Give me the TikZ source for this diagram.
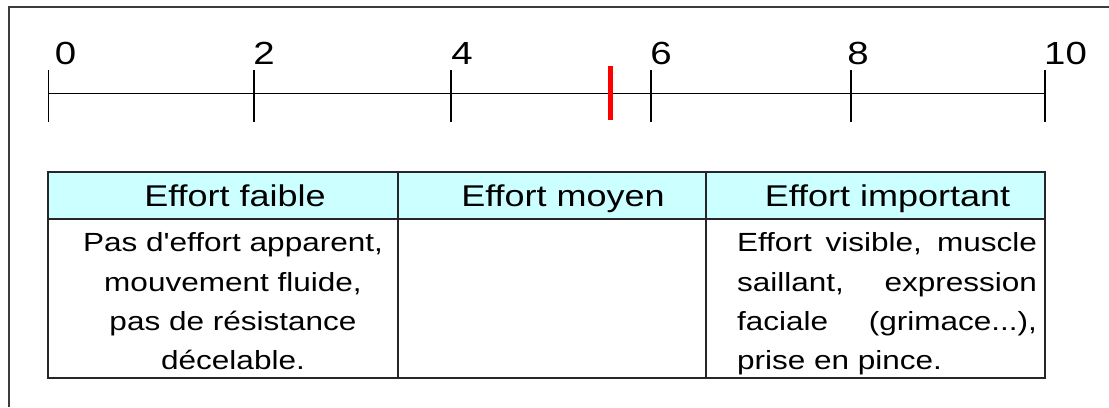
\documentclass[tikz,border=0pt]{standalone}
\usepackage{fontspec}
\setmainfont{Liberation Sans}[FakeStretch=1.2,Ligatures=TeXOff]
\usetikzlibrary{positioning}
\definecolor{headcyan}{RGB}{204,255,255}
\definecolor{framegray}{RGB}{60,60,60}
\tikzstyle{cell}=[draw=black!85,line width=1.1pt]
\tikzstyle{headtext}=[anchor=base,inner sep=0pt,font=\fontsize{22.5pt}{27pt}\selectfont]
\tikzstyle{bodytext}=[anchor=base,inner sep=0pt,font=\fontsize{19.7pt}{29.55pt}\selectfont]
\tikzstyle{ticklabel}=[anchor=base,inner sep=0pt,font=\fontsize{24pt}{28pt}\selectfont]

\begin{document}
\begin{tikzpicture}[x=0.75pt,y=-0.75pt,line width=1pt]
  \useasboundingbox (0,0) rectangle (1109,407);
  \draw[framegray,line width=1.4pt] (9,407) -- (9,7.3) -- (1109,7.3);
  % scale 0..10
  \foreach \n/\x/\lx in {0/48.7/65.5,2/254/264,4/451/462,6/651/661,8/851/858,10/1045/1065.5}{
    \coordinate (t\n) at (\x,93.3);
    \draw (t\n) ++(0,-23.3) -- ++(0,51.7);
    \node[ticklabel] (l\n) at (\lx,64) {\n};
  }
  \draw (t0) -- (t10);
  \coordinate (score) at (610.3,93.3);
  \draw[red,line width=3.75pt] (score) ++(0,-27.3) -- ++(0,54);
  % table
  \draw[cell,fill=headcyan] (48,172) rectangle (1045,219);
  \draw[cell] (48,172) rectangle (1045,378);
  \draw[cell] (398,172) -- (398,378);
  \draw[cell] (706,172) -- (706,378);
  \node[headtext] (faible) at (235,206.7) {Effort faible};
  \node[headtext] (moyen) at (563,206.7) {Effort moyen};
  \node[headtext] (important) at (887.5,206.7) {Effort important};
  % base anchor = last line
  \node[bodytext,align=center] (descfaible) at (233,369.9)
    {Pas d'effort apparent,\\mouvement fluide,\\pas de résistance\\décelable.};
  \node[bodytext,align=left] (descimportant) at (887,369.9)
    {\makebox[225pt][s]{Effort visible, muscle}\\
     \makebox[225pt][s]{saillant, expression}\\
     \makebox[225pt][s]{faciale (grimace...),}\\
     \makebox[225pt][l]{prise en pince.}};
\end{tikzpicture}
\end{document}
